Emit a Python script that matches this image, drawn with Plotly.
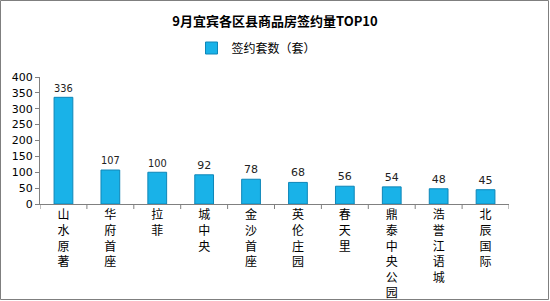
import plotly.graph_objects as go

categories = ["山水原著", "华府首座", "拉菲", "城中央", "金沙首座", "英伦庄园", "春天里", "鼎泰中央公园", "浩誉江语城", "北辰国际"]
values = [336, 107, 100, 92, 78, 68, 56, 54, 48, 45]
y_ticks = [0, 50, 100, 150, 200, 250, 300, 350, 400]
series_name = "签约套数（套）"
title_text = "9月宜宾各区县商品房签约量TOP10"

W, H = 550, 301
ml, mr, mt, mb = 40, 41, 77, 97
pw, ph = W - ml - mr, H - mt - mb

font_family = "Noto Sans CJK SC, Noto Sans, sans-serif"

vertical_labels = ["<br>".join(list(c)) for c in categories]

fig = go.Figure()
fig.add_trace(go.Bar(
    x=list(range(len(categories))),
    y=values,
    name=series_name,
    width=0.4,
    marker=dict(color="#19B2E8", line=dict(color="#0E86B8", width=1)),
    text=[str(v) for v in values],
    textposition="outside",
    textfont=dict(size=11, color="#222222", family="DejaVu Sans, sans-serif"),
    cliponaxis=False,
    showlegend=True,
))

fig.update_layout(
    width=W, height=H,
    margin=dict(l=ml, r=mr, t=mt, b=mb, autoexpand=False),
    paper_bgcolor="white",
    plot_bgcolor="white",
    font=dict(family=font_family, color="#000000"),
    title=dict(text="<b>" + title_text + "</b>", x=0.5, xanchor="center", y=1 - 21 / H, yanchor="middle",
               font=dict(size=13, color="#000000", family=font_family)),
    legend=dict(orientation="h", x=0.5 - 18 / pw, xanchor="center", y=1 + 29 / ph, yanchor="middle",
                font=dict(size=12, color="#000000", family=font_family),
                itemwidth=30, bgcolor="rgba(0,0,0,0)"),
    bargap=0.6,
    showlegend=True,
)

fig.update_xaxes(
    tickmode="array",
    tickvals=list(range(len(categories))),
    ticktext=vertical_labels,
    range=[-0.5, len(categories) - 0.5],
    showline=True, linecolor="#808080", linewidth=1,
    ticks="", showgrid=False, zeroline=False, automargin=False,
    tickfont=dict(size=12, color="#000000", family=font_family),
    tickangle=0,
)

fig.update_yaxes(
    range=[0, 400],
    tickvals=y_ticks,
    showline=True, linecolor="#808080", linewidth=1,
    ticks="outside", ticklen=4, tickcolor="#808080",
    showgrid=False, zeroline=False, automargin=False,
    tickfont=dict(size=11, color="#000000", family="DejaVu Sans, sans-serif"),
)

# category separator tick marks on x axis
shapes = []
for i in range(len(categories) + 1):
    shapes.append(dict(type="line", xref="x", yref="paper", x0=i - 0.5, x1=i - 0.5, y0=0, y1=-5 / ph,
                       line=dict(color="#808080", width=1)))
# outer border
shapes.append(dict(type="rect", xref="paper", yref="paper",
                   x0=(-ml + 0.5) / pw, x1=1 + (mr - 1.5) / pw,
                   y0=(-mb + 1.5) / ph, y1=1 + (mt - 0.5) / ph,
                   line=dict(color="#7f7f7f", width=1), fillcolor="rgba(0,0,0,0)", layer="below"))
fig.update_layout(shapes=shapes)

fig.write_html("out.html")
